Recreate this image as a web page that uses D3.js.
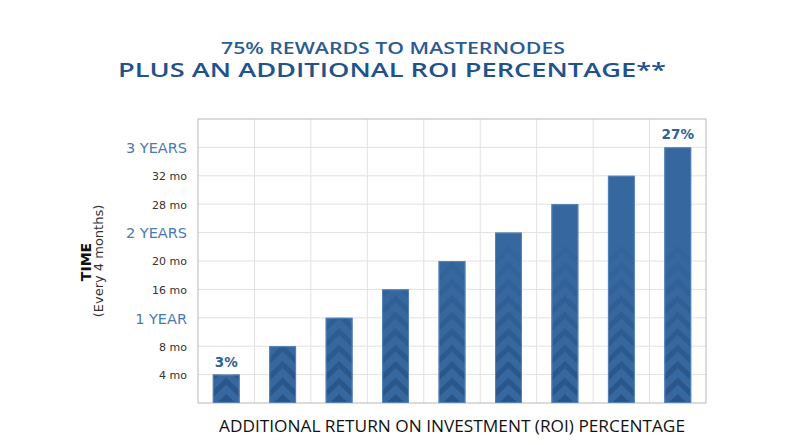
<!DOCTYPE html>
<html><head><meta charset="utf-8">
<script src="https://cdn.jsdelivr.net/npm/d3@7/dist/d3.min.js"></script>
<style>
html,body{margin:0;padding:0;background:#fff;}
svg{display:block;font-family:"Open Sans","Noto Sans",sans-serif;}
</style></head>
<body>
<svg id="chart" width="796" height="445"></svg>
<script>
// ---- data ----
const roiPercent = [3, 6, 9, 12, 15, 18, 21, 24, 27];
const monthsValue = [4, 8, 12, 16, 20, 24, 28, 32, 36];
const barLabels = ["3%", "", "", "", "", "", "", "", "27%"];
const tickValues = [4, 8, 12, 16, 20, 24, 28, 32, 36];
const tickLabels = ["4 mo", "8 mo", "1 YEAR", "16 mo", "20 mo", "2 YEARS", "28 mo", "32 mo", "3 YEARS"];
const titleLines = ["75% REWARDS TO MASTERNODES", "PLUS AN ADDITIONAL ROI PERCENTAGE**"];
const xTitle = "ADDITIONAL RETURN ON INVESTMENT (ROI) PERCENTAGE";
const yTitle = ["TIME", "(Every 4 months)"];

const svg = d3.select("#chart");
const L = 198, R = 706, T = 119, B = 403;

const x = d3.scaleBand().domain(roiPercent).range([L, R]).padding(0);
const y = d3.scaleLinear().domain([0, 40]).range([B, T]);
const barW = x.bandwidth() * 0.475;

// grid
const g = svg.append("g");
g.selectAll("line.h").data(tickValues).join("line")
  .attr("x1", L).attr("x2", R).attr("y1", d => y(d)).attr("y2", d => y(d))
  .attr("stroke", "#e2e2e2").attr("stroke-width", 1);
g.selectAll("line.v").data(roiPercent.slice(1)).join("line")
  .attr("x1", d => x(d)).attr("x2", d => x(d)).attr("y1", T).attr("y2", B)
  .attr("stroke", "#e2e2e2").attr("stroke-width", 1);
g.append("rect").attr("x", L).attr("y", T).attr("width", R - L).attr("height", B - T)
  .attr("fill", "none").attr("stroke", "#b8b8b8").attr("stroke-width", 1);

// bars
const defs = svg.append("defs");
const data = roiPercent.map((p, i) => ({p, m: monthsValue[i], lab: barLabels[i], i}));
data.forEach(d => {
  defs.append("clipPath").attr("id", "clip" + d.i).append("rect")
    .attr("x", x(d.p) + (x.bandwidth() - barW) / 2).attr("y", y(d.m))
    .attr("width", barW).attr("height", y(0) - y(d.m));
});
const bars = svg.append("g").selectAll("g").data(data).join("g");
bars.append("rect")
  .attr("x", d => x(d.p) + (x.bandwidth() - barW) / 2)
  .attr("y", d => y(d.m))
  .attr("width", barW)
  .attr("height", d => y(0) - y(d.m))
  .attr("fill", "#36679f");
// chevrons
bars.each(function(d) {
  const x0 = x(d.p) + (x.bandwidth() - barW) / 2, x1 = x0 + barW, xc = (x0 + x1) / 2;
  const gg = d3.select(this).append("g").attr("clip-path", `url(#clip${d.i})`);
  const n = 10, sp = 16.5, h = 13, t = 7;
  for (let k = 0; k < n; k++) {
    const yb = B + 4 - k * sp;
    if (yb < y(d.m) - 2) break;
    const pts = [[x0, yb], [xc, yb - h], [x1, yb], [x1, yb + t], [xc, yb - h + t], [x0, yb + t]];
    gg.append("path").attr("d", "M" + pts.join("L") + "Z")
      .attr("fill", "#1d426f").attr("opacity", 0.5 * (1 - k / n));
  }
});
bars.append("rect")
  .attr("x", d => x(d.p) + (x.bandwidth() - barW) / 2 + 0.5)
  .attr("y", d => y(d.m) + 0.5)
  .attr("width", barW - 1)
  .attr("height", d => y(0) - y(d.m) - 1)
  .attr("fill", "none").attr("stroke", "#5383ba").attr("stroke-width", 1);

bars.append("text")
  .attr("x", d => x(d.p) + x.bandwidth() / 2)
  .attr("y", d => y(d.m) - 8)
  .attr("text-anchor", "middle")
  .attr("font-family", "'DejaVu Sans',sans-serif")
  .attr("font-size", 13.5).attr("font-weight", 700)
  .attr("fill", "#2f5f97")
  .text(d => d.lab);

// y axis
const ax = svg.append("g").attr("transform", `translate(${L},0)`)
  .call(d3.axisLeft(y).tickValues(tickValues).tickSize(0).tickPadding(11)
    .tickFormat((d, i) => tickLabels[i]));
ax.select(".domain").remove();
ax.selectAll("text")
  .attr("font-family", "'DejaVu Sans',sans-serif")
  .attr("font-size", d => (d % 12 === 0 ? 14.5 : 11))
  .attr("fill", d => (d % 12 === 0 ? "#4a7ab3" : "#333"))
  .attr("dy", "0.36em");

// y title
svg.append("text").attr("transform", "translate(91,262) rotate(-90)")
  .attr("text-anchor", "middle").attr("font-family", "'DejaVu Sans',sans-serif")
  .attr("font-size", 14).attr("font-weight", 700)
  .attr("fill", "#111").text(yTitle[0]);
svg.append("text").attr("transform", "translate(103,261) rotate(-90)")
  .attr("text-anchor", "middle").attr("font-family", "'DejaVu Sans',sans-serif")
  .attr("font-size", 13)
  .attr("fill", "#333").text(yTitle[1]);

// x title
svg.append("text").attr("x", 452).attr("y", 432).attr("text-anchor", "middle")
  .attr("font-size", 15.5).attr("fill", "#111")
  .attr("textLength", 466).attr("lengthAdjust", "spacingAndGlyphs").text(xTitle);

// titles
svg.append("text").attr("x", 393).attr("y", 54).attr("text-anchor", "middle")
  .attr("font-size", 16.5).attr("font-weight", 600).attr("fill", "#2b5b93")
  .attr("textLength", 344).attr("lengthAdjust", "spacingAndGlyphs").text(titleLines[0]);
svg.append("text").attr("x", 392).attr("y", 77).attr("text-anchor", "middle")
  .attr("font-size", 19.5).attr("font-weight", 600).attr("fill", "#21528c")
  .attr("textLength", 548).attr("lengthAdjust", "spacingAndGlyphs").text(titleLines[1]);
</script>
</body></html>
